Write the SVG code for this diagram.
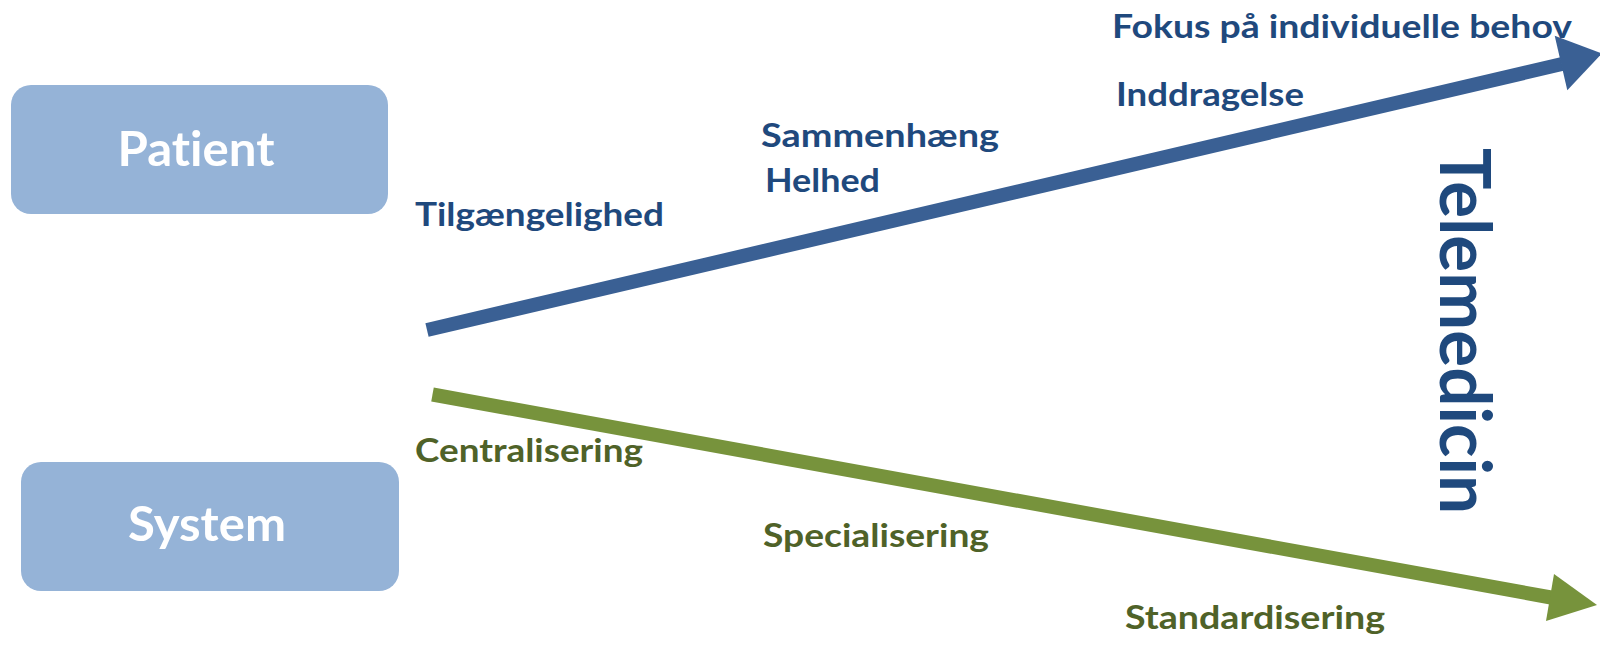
<svg xmlns="http://www.w3.org/2000/svg" width="1600" height="645" viewBox="0 0 1600 645">
<style>
text{font-variant-ligatures:none;font-feature-settings:"liga" 0;}
.box{fill:#95B3D7;}
.boxt{font-family:Lato,"Open Sans","Liberation Sans",sans-serif;font-weight:bold;font-size:47px;fill:#FFFFFF;text-anchor:middle;}
.lbl{font-family:Lato,"Open Sans","Liberation Sans",sans-serif;font-weight:bold;font-size:33px;}
.blue{fill:#1F497D;}
.green{fill:#4F6228;}
.big{font-family:Lato,"Open Sans","Liberation Sans",sans-serif;font-weight:bold;font-size:71px;fill:#1F497D;}
</style>
<rect width="1600" height="645" fill="#FFFFFF"/>
<g id="patient">
<rect class="box" x="11" y="85" width="377" height="129" rx="20"/>
<text class="boxt" x="196" y="166" textLength="157" lengthAdjust="spacingAndGlyphs">Patient</text>
</g>
<g id="system">
<rect class="box" x="21" y="462" width="378" height="129" rx="20"/>
<text class="boxt" x="207" y="541" textLength="158" lengthAdjust="spacingAndGlyphs">System</text>
</g>
<g id="connectors">
<line x1="427" y1="330" x2="1562" y2="64" stroke="#3A6094" stroke-width="14"/>
<polygon points="1554.7,35.7 1602,53.5 1567.3,90.3" fill="#3A6094"/>
<line x1="432.5" y1="394.5" x2="1551" y2="597.5" stroke="#77933C" stroke-width="14"/>
<polygon points="1554,574 1597,605 1546,621" fill="#77933C"/>
</g>
<g id="labels">
<text class="lbl blue" x="1112" y="38" textLength="460" lengthAdjust="spacingAndGlyphs">Fokus på individuelle behov</text>
<text class="lbl blue" x="1116" y="106" textLength="188" lengthAdjust="spacingAndGlyphs">Inddragelse</text>
<text class="lbl blue" x="761" y="147" textLength="238" lengthAdjust="spacingAndGlyphs">Sammenhæng</text>
<text class="lbl blue" x="765" y="192" textLength="115" lengthAdjust="spacingAndGlyphs">Helhed</text>
<text class="lbl blue" x="415" y="226" textLength="249" lengthAdjust="spacingAndGlyphs">Tilgængelighed</text>
<text class="lbl green" x="415" y="462" textLength="228" lengthAdjust="spacingAndGlyphs">Centralisering</text>
<text class="lbl green" x="763" y="547" textLength="226" lengthAdjust="spacingAndGlyphs">Specialisering</text>
<text class="lbl green" x="1125" y="629" textLength="260" lengthAdjust="spacingAndGlyphs">Standardisering</text>
</g>
<g id="telemedicin">
<text class="big" transform="translate(1440,148) rotate(90)" textLength="366" lengthAdjust="spacingAndGlyphs">Telemedicin</text>
</g>
</svg>
